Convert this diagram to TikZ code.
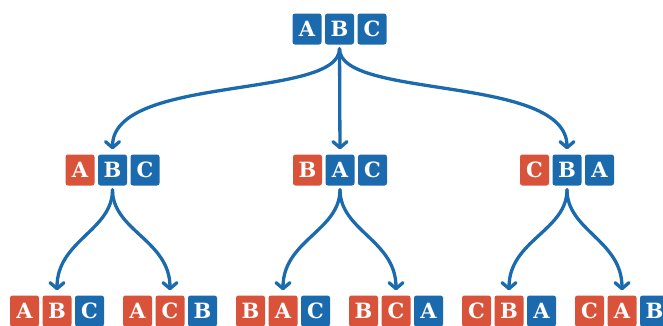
\documentclass[tikz,border=0pt]{standalone}
\usepackage{fontspec}
\setmainfont{DejaVu Serif}
\usetikzlibrary{arrows.meta,calc}
\definecolor{cblue}{HTML}{1B6AAE}
\definecolor{cred}{HTML}{D9523A}
\tikzset{
  lbox/.style={rounded corners=2.5pt, minimum width=29pt, minimum height=31pt, inner sep=0pt,
    text=white, font=\fontsize{21}{21}\selectfont\bfseries},
  R/.style={lbox, fill=cred},
  B/.style={lbox, fill=cblue},
  arr/.style={draw=cblue, line width=3.3pt, line cap=round,
    -{Straight Barb[length=6pt,width=14pt,round]}, shorten <=4pt, shorten >=5pt}
}
\newcommand\trio[9]{%
  \node[#4] (#1a) at (#2-32.5,#3) {#5};
  \node[#6] (#1b) at (#2,#3) {#7};
  \node[#8] (#1c) at (#2+32.5,#3) {#9};
}
\begin{document}
\begin{tikzpicture}[x=1pt,y=1pt]
\useasboundingbox (0,0) rectangle (663,-325);
% level 1
\trio{t}{339.5}{-29}{B}{A}{B}{B}{B}{C}
% level 2
\trio{a}{112.5}{-170}{R}{A}{B}{B}{B}{C}
\trio{b}{340}{-170}{R}{B}{B}{A}{B}{C}
\trio{c}{567}{-170}{R}{C}{B}{B}{B}{A}
% level 3
\trio{d}{57}{-311}{R}{A}{R}{B}{B}{C}
\trio{e}{170}{-311}{R}{A}{R}{C}{B}{B}
\trio{f}{283}{-311}{R}{B}{R}{A}{B}{C}
\trio{g}{396}{-311}{R}{B}{R}{C}{B}{A}
\trio{h}{509}{-311}{R}{C}{R}{B}{B}{A}
\trio{k}{622}{-311}{R}{C}{R}{A}{B}{B}
% connectors level 1 -> 2
\draw[arr] (tb.south) .. controls ($(tb.south)+(0,-55)$) and ($(ab.north)+(0,80)$) .. (ab.north);
\draw[arr] (tb.south) -- (bb.north);
\draw[arr] (tb.south) .. controls ($(tb.south)+(0,-55)$) and ($(cb.north)+(0,80)$) .. (cb.north);
% connectors level 2 -> 3
\foreach \p/\l/\r in {a/d/e, b/f/g, c/h/k}{
  \draw[arr] (\p b.south) .. controls ($(\p b.south)+(0,-45)$) and ($(\l b.north)+(0,55)$) .. (\l b.north);
  \draw[arr] (\p b.south) .. controls ($(\p b.south)+(0,-45)$) and ($(\r b.north)+(0,55)$) .. (\r b.north);
}
\end{tikzpicture}
\end{document}
